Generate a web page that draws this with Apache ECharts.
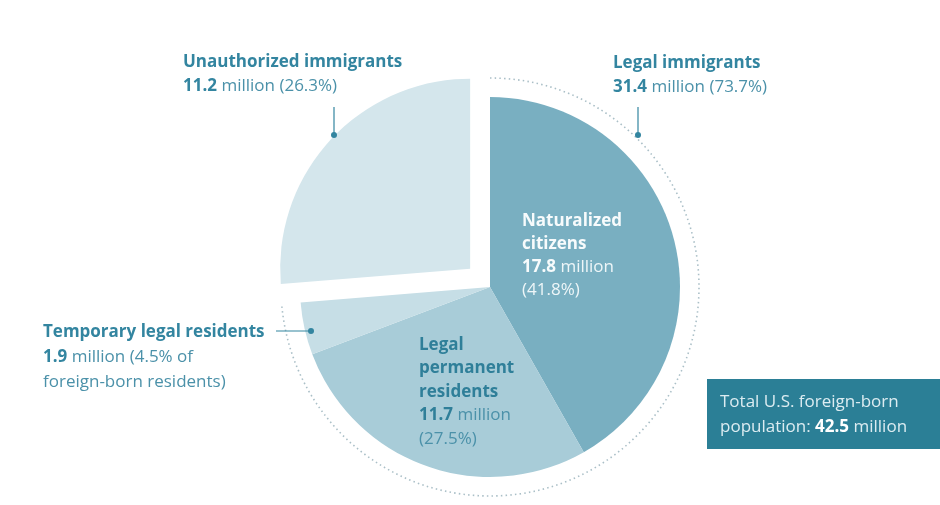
<!DOCTYPE html>
<html>
<head>
<meta charset="utf-8">
<title>U.S. foreign-born population</title>
<script src="https://cdn.jsdelivr.net/npm/echarts@6/dist/echarts.min.js"></script>
<style>
  html, body { margin: 0; padding: 0; background: #ffffff; }
  #chart { width: 940px; height: 505px; }
</style>
</head>
<body>
<div id="chart"></div>
<script>
// Foreign-born population by legal status (millions, share of total)
const categories = ['Naturalized citizens', 'Legal permanent residents', 'Temporary legal residents', 'Unauthorized immigrants'];
const millions = [17.8, 11.7, 1.9, 11.2];
const shares = [41.8, 27.5, 4.5, 26.3];
const legalGroup = { name: 'Legal immigrants', millions: 31.4, share: 73.7 };
const totalMillions = 42.5;

const sliceColors = ['#79afc1', '#a8ccd8', '#c6dee6', '#d4e6ec'];
const TEAL = '#3385a0';
const TEAL_LIGHT = '#4b91a9';
const FONT = '"Open Sans", Roboto, sans-serif';
const FS = 17;

const CX = 490, CY = 287, R = 190, RING = 209;

const chart = echarts.init(document.getElementById('chart'), null, { renderer: 'canvas' });

function textBlock(x, firstLineCenterY, lineHeight, text, fill, boldFill) {
  return {
    type: 'text',
    silent: true,
    z: 100,
    style: {
      x: x,
      y: firstLineCenterY - lineHeight / 2,
      text: text,
      fill: fill,
      font: FS + 'px ' + FONT,
      lineHeight: lineHeight,
      align: 'left',
      verticalAlign: 'top',
      rich: {
        h: { fill: boldFill, fontWeight: 'bold', fontSize: FS, fontFamily: FONT, lineHeight: lineHeight },
        v: { fill: boldFill, fontWeight: 'bold', fontSize: FS, fontFamily: FONT, lineHeight: lineHeight }
      }
    }
  };
}

// One word per line, in bold
function stackedName(name) {
  return name.split(' ').map(w => '{h|' + w + '}').join('\n');
}

function leader(x1, y1, x2, y2) {
  return [
    { type: 'line', silent: true, z: 100, shape: { x1, y1, x2, y2 }, style: { stroke: TEAL, lineWidth: 1.2 } },
    { type: 'circle', silent: true, z: 100, shape: { cx: x2, cy: y2, r: 3 }, style: { fill: TEAL } }
  ];
}

// Dotted bracket around the legal-immigrant share of the pie
const ringStart = -Math.PI / 2;
const ringEnd = ringStart + 2 * Math.PI * (legalGroup.share / 100);

const graphics = [
  {
    type: 'arc', silent: true, z: 100,
    shape: { cx: CX, cy: CY, r: RING, startAngle: ringStart, endAngle: ringEnd, clockwise: true },
    style: { stroke: '#aabfc7', lineWidth: 1.6, lineDash: [1.5, 3.2], fill: null }
  },
  // Unauthorized immigrants (exploded slice)
  textBlock(183, 62, 24,
    '{h|' + categories[3] + '}\n{v|' + millions[3] + '} million (' + shares[3] + '%)',
    TEAL_LIGHT, TEAL),
  ...leader(334, 107, 334, 135),
  // Legal immigrants (bracketed group)
  textBlock(613, 63, 24,
    '{h|' + legalGroup.name + '}\n{v|' + legalGroup.millions + '} million (' + legalGroup.share + '%)',
    TEAL_LIGHT, TEAL),
  ...leader(638, 107, 638, 135),
  // Naturalized citizens (inside the slice)
  textBlock(522, 221, 23,
    stackedName(categories[0]) + '\n{v|' + millions[0] + '} million\n(' + shares[0] + '%)',
    '#eef6f8', '#f7fbfc'),
  // Legal permanent residents (inside the slice)
  textBlock(419, 345, 23.5,
    stackedName(categories[1]) + '\n{v|' + millions[1] + '} million\n(' + shares[1] + '%)',
    TEAL_LIGHT, '#2f7f99'),
  // Temporary legal residents
  textBlock(43, 332, 25,
    '{h|' + categories[2] + '}\n{v|' + millions[2] + '} million (' + shares[2] + '% of\nforeign-born residents)',
    TEAL_LIGHT, TEAL),
  ...leader(276, 331, 311, 331),
  // Total box
  {
    type: 'rect', silent: true, z: 100,
    shape: { x: 707, y: 379, width: 233, height: 70 },
    style: { fill: '#2b7f96' }
  },
  textBlock(720, 402, 25,
    'Total U.S. foreign-born\npopulation: {v|' + totalMillions + '} million',
    '#dcecf1', '#ffffff')
];

const option = {
  animation: false,
  backgroundColor: '#ffffff',
  series: [{
    type: 'pie',
    center: [CX, CY],
    radius: [0, R],
    startAngle: 90,
    clockwise: true,
    selectedMode: 'single',
    selectedOffset: 27,
    label: { show: false },
    labelLine: { show: false },
    emphasis: { disabled: true },
    itemStyle: { borderWidth: 0 },
    data: categories.map((name, i) => ({
      name: name,
      value: millions[i],
      selected: i === 3,
      itemStyle: { color: sliceColors[i] }
    }))
  }],
  graphic: graphics
};

chart.setOption(option);
</script>
</body>
</html>
